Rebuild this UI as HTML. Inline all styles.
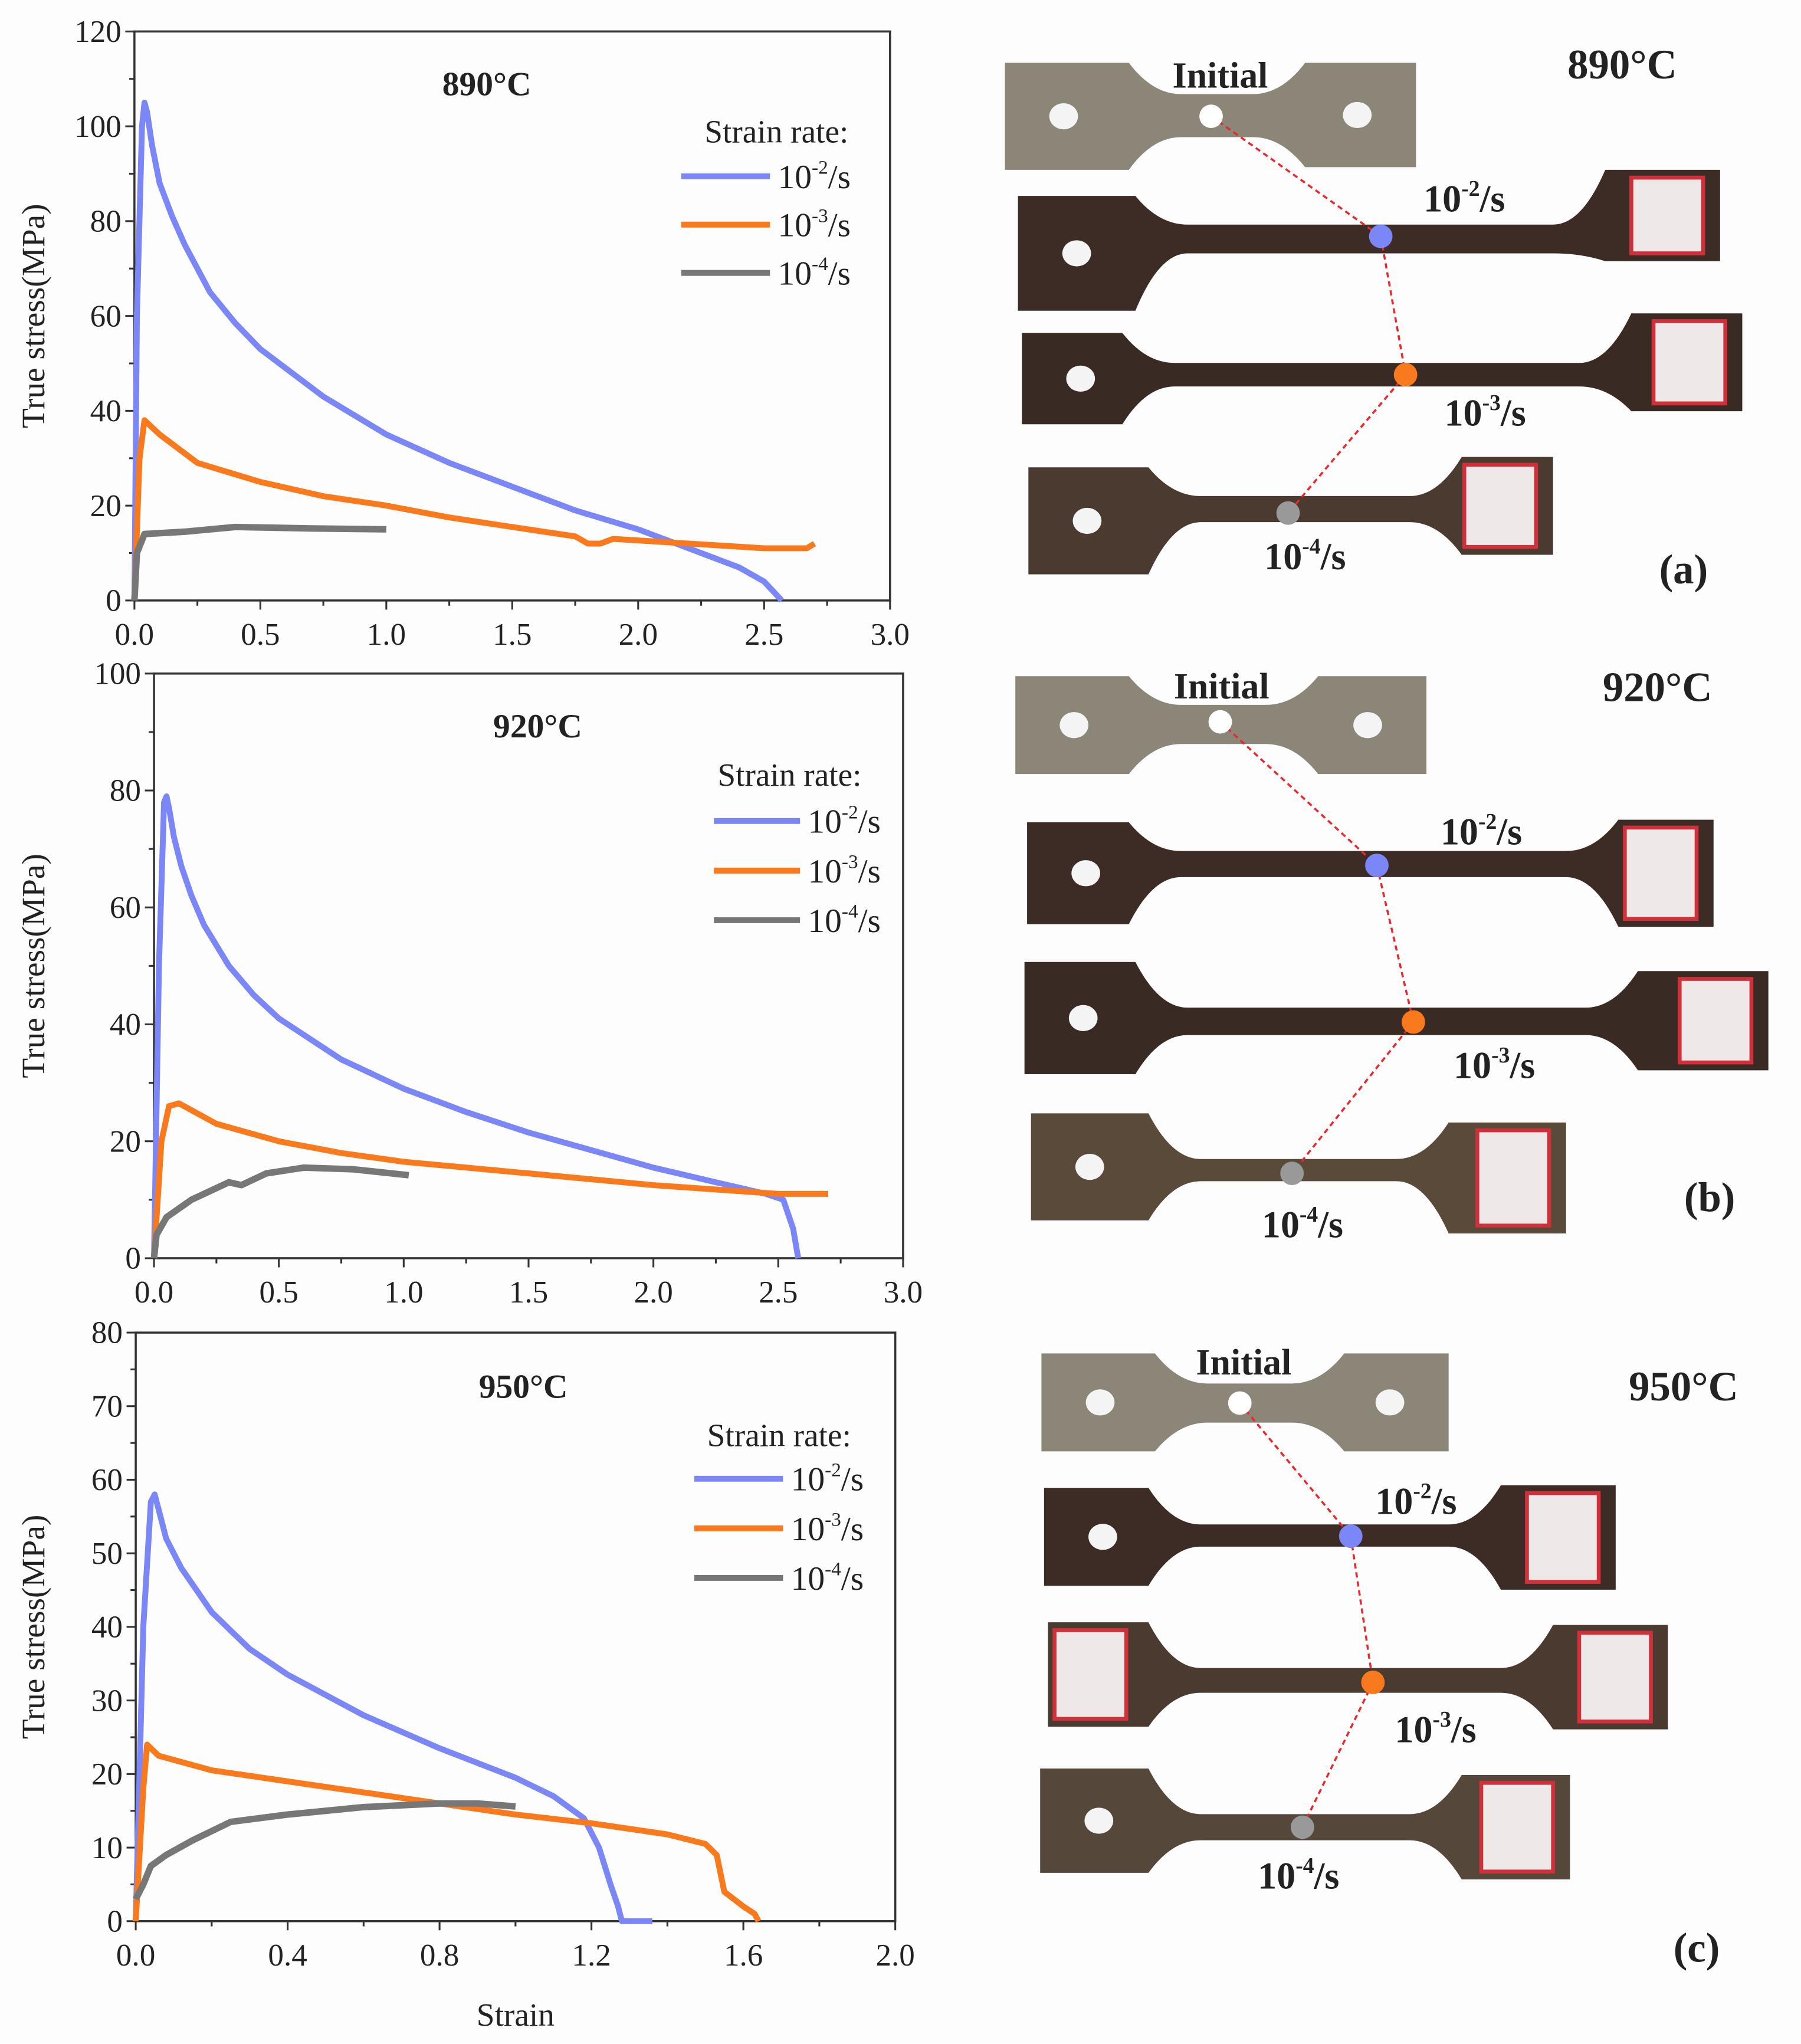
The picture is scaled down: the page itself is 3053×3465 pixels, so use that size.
<!DOCTYPE html>
<html><head><meta charset="utf-8"><style>
html,body{margin:0;padding:0;background:#fff}
svg{display:block}
text{font-family:"Liberation Serif",serif;fill:#222}
</style></head><body>
<svg id="fig" width="3053" height="3465" viewBox="0 0 1380 1566" xmlns="http://www.w3.org/2000/svg">
<rect width="1380" height="1566" fill="#fdfdfd"/>
<g id="charts"></g>
<g id="photos"></g>
</svg>
<script>
const NS="http://www.w3.org/2000/svg";
// ---- data ----
const p1BlueX=[0,0.01,0.03,0.04,0.05,0.07,0.1,0.15,0.2,0.3,0.4,0.5,0.75,1.0,1.25,1.5,1.75,2.0,2.2,2.4,2.5,2.57];
const p1BlueY=[0,60,100,105,103,96,88,81,75,65,58.5,53,43,35,29,24,19,15,11,7,4,0];
const p1OrX=[0,0.02,0.04,0.1,0.25,0.5,0.75,1.0,1.25,1.5,1.75,1.8,1.85,1.9,2.2,2.5,2.67,2.7];
const p1OrY=[0,30,38,35,29,25,22,20,17.5,15.5,13.5,12,12,13,12,11,11,12];
const p1GrX=[0,0.01,0.04,0.2,0.4,0.7,1.0];
const p1GrY=[0,10,14,14.5,15.5,15.2,15];
const p2BlueX=[0,0.02,0.04,0.05,0.06,0.08,0.11,0.15,0.2,0.3,0.4,0.5,0.75,1.0,1.25,1.5,1.75,2.0,2.25,2.45,2.52,2.56,2.58];
const p2BlueY=[0,50,78,79,77,72,67,62,57,50,45,41,34,29,25,21.5,18.5,15.5,13,11,10,5,0];
const p2OrX=[0,0.03,0.06,0.1,0.25,0.5,0.75,1.0,1.5,2.0,2.5,2.7];
const p2OrY=[0,20,26,26.5,23,20,18,16.5,14.5,12.5,11,11];
const p2GrX=[0,0.01,0.05,0.15,0.3,0.35,0.45,0.6,0.8,1.02];
const p2GrY=[0,4,7,10,13,12.5,14.5,15.5,15.2,14.2];
const p3BlueX=[0,0.02,0.04,0.05,0.06,0.08,0.12,0.16,0.2,0.3,0.4,0.6,0.8,1.0,1.1,1.18,1.22,1.25,1.27,1.28,1.36];
const p3BlueY=[0,40,57,58,56,52,48,45,42,37,33.5,28,23.5,19.5,17,14,10,5,2,0,0];
const p3OrX=[0,0.02,0.03,0.06,0.2,0.4,0.6,0.8,1.0,1.2,1.4,1.5,1.53,1.55,1.6,1.63,1.64];
const p3OrY=[0,18,24,22.5,20.5,19,17.5,16,14.5,13.3,11.8,10.5,9,4,2,1,0];
const p3GrX=[0,0.02,0.04,0.08,0.15,0.25,0.4,0.6,0.8,0.9,1.0];
const p3GrY=[3,5,7.5,9,11,13.5,14.5,15.5,16,16,15.6];
const xTicks1=["0.0","0.5","1.0","1.5","2.0","2.5","3.0"];
const yTicks1=["0","20","40","60","80","100","120"];
const yTicks2=["0","20","40","60","80","100"];
const xTicks3=["0.0","0.4","0.8","1.2","1.6","2.0"];
const yTicks3=["0","10","20","30","40","50","60","70","80"];
const temps=["890°C","920°C","950°C"];
const rates=["-2","-3","-4"];
const COLORS=["#7b87f7","#f97a1c","#777777"];

function el(tag,attrs,parent,txt){const e=document.createElementNS(NS,tag);for(const k in attrs)e.setAttribute(k,attrs[k]);if(txt!==undefined)e.textContent=txt;parent.appendChild(e);return e;}

const charts=document.getElementById('charts');
const panels=[
 {x0:103,x1:682,y0:460,y1:24,xmax:3,ymax:120,xt:xTicks1,yt:yTicks1,series:[[p1BlueX,p1BlueY],[p1OrX,p1OrY],[p1GrX,p1GrY]],title:[373,64],leg:[595,101,522,590,135,37]},
 {x0:118,x1:692,y0:964,y1:516,xmax:3,ymax:100,xt:xTicks1,yt:yTicks2,series:[[p2BlueX,p2BlueY],[p2OrX,p2OrY],[p2GrX,p2GrY]],title:[412,556],leg:[605,594,547,613,629,38]},
 {x0:104,x1:686,y0:1472,y1:1021,xmax:2,ymax:80,xt:xTicks3,yt:yTicks3,series:[[p3BlueX,p3BlueY],[p3OrX,p3OrY],[p3GrX,p3GrY]],title:[401,1062],leg:[597,1100,532,600,1133,38]}
];
panels.forEach((p,i)=>{
 const g=el('g',{},charts);
 
 
 const sx=v=>p.x0+(p.x1-p.x0)*v/p.xmax, sy=v=>p.y0-(p.y0-p.y1)*v/p.ymax;
 const frame=el('rect',{x:p.x0,y:p.y1,width:p.x1-p.x0,height:p.y0-p.y1,fill:'none',stroke:'#333','stroke-width':1.6},g);
 
 
 const nx=p.xt.length-1;
 for(let k=0;k<=nx*2;k++){const v=p.xmax*k/(nx*2);const X=sx(v);el('line',{x1:X,x2:X,y1:p.y0,y2:p.y0+(k%2?4:7),stroke:'#333','stroke-width':1.4},g);}
 p.xt.forEach((t,k)=>{const lab=el('text',{x:sx(p.xmax*k/nx),y:p.y0+34,'font-size':24,'text-anchor':'middle'},g,t);
  
  });
 const ny=p.yt.length-1;
 for(let k=0;k<=ny*2;k++){const v=p.ymax*k/(ny*2);const Y=sy(v);el('line',{x1:p.x0,x2:p.x0-(k%2?4:7),y1:Y,y2:Y,stroke:'#333','stroke-width':1.4},g);}
 p.yt.forEach((t,k)=>{const lab=el('text',{x:p.x0-10,y:sy(p.ymax*k/ny)+8,'font-size':24,'text-anchor':'end'},g,t);
  
  });
 const yl=el('text',{x:0,y:0,'font-size':25,'text-anchor':'middle',transform:`translate(34,${(p.y0+p.y1)/2}) rotate(-90)`},g,'True stress(MPa)');
 
 
 const tt=el('text',{x:p.title[0],y:p.title[1]+9,'font-size':26,'font-weight':'bold','text-anchor':'middle'},g,temps[i]);
 
 
 p.series.forEach((s,j)=>{
  const d=s[0].map((x,k)=>(k?'L':'M')+sx(x).toFixed(1)+','+sy(s[1][k]).toFixed(1)).join(' ');
  const path=el('path',{d:d,fill:'none',stroke:COLORS[j],'stroke-width':j==2?5:4.5,'stroke-linejoin':'round'},g);
  
  
 });
 const L=p.leg;
 const lt=el('text',{x:L[0],y:L[1]+8,'font-size':25,'text-anchor':'middle'},g,'Strain rate:');
 
 
 rates.forEach((r,j)=>{
  const Y=L[4]+L[5]*j;
  const ln=el('line',{x1:L[2],x2:L[3],y1:Y,y2:Y,stroke:COLORS[j],'stroke-width':4.5},g);
  
  
  const t=el('text',{x:L[3]+6,y:Y+9,'font-size':26},g);
  
  
  t.innerHTML='10<tspan font-size="15" dy="-11">'+r+'</tspan><tspan dy="11">/s</tspan>';
 });
 if(i==2){const xl=el('text',{x:395,y:1552,'font-size':25,'text-anchor':'middle'},g,'Strain');
  
  }
});

// ---- photos ----
const ph=document.getElementById('photos');
function bone(g,L,R,yt,yb,n1,n2,nt,nb,ryt,ryb,col){
 const d=`M${L},${yt} L${n1},${yt} Q${n1+18},${nt} ${n1+40},${nt} L${n2-40},${nt} Q${n2-18},${nt} ${n2},${ryt} L${R},${ryt} L${R},${ryb} L${n2},${ryb} Q${n2-18},${nb} ${n2-40},${nb} L${n1+40},${nb} Q${n1+18},${nb} ${n1},${yb} L${L},${yb} Z`;
 const s=el('path',{d:d,fill:col},g);
 
 
}
const specs=[
 [[770,1085,48,130,865,1000,72,105,48,128,'#8c8678',0],[780,1318,150,238,870,1230,172,194,130,200,'#3d2b26',1],[783,1335,255,325,860,1250,278,296,240,315,'#3a2a24',2],[788,1190,358,440,880,1120,380,400,350,425,'#4a3a30',2]],
 [[778,1093,518,593,865,1010,540,570,518,593,'#8c8678',0],[787,1313,630,708,865,1240,652,672,628,710,'#3d2b26',2],[785,1355,737,823,870,1255,772,793,744,820,'#3a2a24',2],[790,1200,853,935,880,1110,888,905,860,945,'#5a4a3a',2]],
 [[798,1110,1037,1112,885,1030,1060,1090,1037,1112,'#8c8678',0],[800,1238,1140,1215,880,1150,1168,1185,1138,1218,'#3d2b26',2],[803,1278,1243,1323,880,1190,1278,1297,1245,1325,'#4a3a30',3],[797,1203,1355,1435,880,1120,1390,1410,1360,1440,'#55473a',2]]
];
const dots=[[[928,89],[1058,181],[1077,287],[987,393]],[[935,553],[1055,663],[1083,783],[990,899]],[[950,1075],[1035,1177],[1052,1289],[998,1400]]];
const labs=[
 {init:[935,67],temp:[1243,60],r:[[1122,162],[1138,326],[1000,436]],p:[1290,447],pl:'(a)'},
 {init:[936,535],temp:[1270,537],r:[[1135,647],[1145,826],[998,948]],p:[1310,928],pl:'(b)'},
 {init:[953,1053],temp:[1290,1073],r:[[1085,1160],[1100,1335],[995,1447]],p:[1300,1503],pl:'(c)'}
];
const dotCol=['#ffffff','#7b87f7','#f97a1c','#999999'];
specs.forEach((grp,i)=>{
 const g=el('g',{},ph);
 
 
 grp.forEach(s=>{
  bone(g,s[0],s[1],s[2],s[3],s[4],s[5],s[6],s[7],s[8],s[9],s[10]);
  el('ellipse',{cx:s[0]+45,cy:(s[2]+s[3])/2,rx:11,ry:10,fill:'#f4f4f4'},g);
  if(s[11]==0) el('ellipse',{cx:s[1]-45,cy:(s[8]+s[9])/2,rx:11,ry:10,fill:'#f4f4f4'},g);
  else {el('rect',{x:s[1]-68,y:s[8]+6,width:55,height:s[9]-s[8]-12,fill:'#eee8e8',stroke:'#d0303a','stroke-width':3},g);
   if(s[11]==3) el('rect',{x:s[0]+5,y:s[2]+6,width:55,height:s[3]-s[2]-12,fill:'#eee8e8',stroke:'#d0303a','stroke-width':3},g);}
 });
 const D=dots[i];
 for(let k=0;k<3;k++){const ln=el('line',{x1:D[k][0],y1:D[k][1],x2:D[k+1][0],y2:D[k+1][1],stroke:'#e8282a','stroke-width':1.6,'stroke-dasharray':'4,3'},g);
  
  }
 D.forEach((d,k)=>{const c=el('circle',{cx:d[0],cy:d[1],r:9,fill:dotCol[k]},g);
  
  });
 const lb=labs[i];
 const t1=el('text',{x:lb.init[0],y:lb.init[1],'font-size':28,'font-weight':'bold','text-anchor':'middle'},g,'Initial');
 
 
 const t2=el('text',{x:lb.temp[0],y:lb.temp[1],'font-size':32,'font-weight':'bold','text-anchor':'middle'},g,temps[i]);
 
 
 lb.r.forEach((r,k)=>{const t=el('text',{x:r[0],y:r[1],'font-size':29,'font-weight':'bold','text-anchor':'middle'},g);
  
  
  t.innerHTML='10<tspan font-size="17" dy="-12">'+rates[k]+'</tspan><tspan dy="12">/s</tspan>';});
 const t3=el('text',{x:lb.p[0],y:lb.p[1],'font-size':32,'font-weight':'bold','text-anchor':'middle'},g,lb.pl);
 
 
});
</script>
</body></html>
